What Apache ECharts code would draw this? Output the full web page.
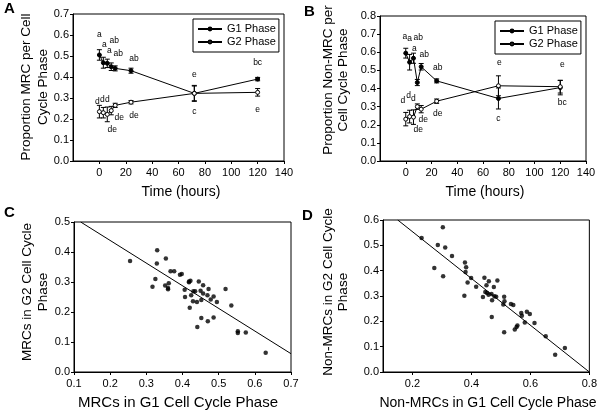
<!DOCTYPE html>
<html>
<head>
<meta charset="utf-8">
<script src="https://cdn.jsdelivr.net/npm/echarts@6/dist/echarts.min.js"></script>
<style>html,body{margin:0;padding:0;background:#fff}#c{width:600px;height:412px}</style>
</head>
<body>
<div id="c"></div>
<script>
// ---------------- DATA ----------------
const timeH = [0, 3, 6, 9, 12, 24, 72, 120];
const xTicksTime = [0, 20, 40, 60, 80, 100, 120, 140];

// Panel A: MRC
const aG1 = [0.505, 0.468, 0.465, 0.449, 0.441, 0.430, 0.322, 0.390];
const aG1Err = [0.025, 0.026, 0.020, 0.018, 0.012, 0.012, 0.038, 0.008];
const aG2 = [0.235, 0.230, 0.222, 0.240, 0.265, 0.280, 0.322, 0.327];
const aG2Err = [0.030, 0.025, 0.035, 0.020, 0.010, 0.008, 0.035, 0.018];
const aG1Letters = ['a', 'a', 'a', 'ab', 'ab', 'ab', 'c', 'bc'];
const aG2Letters = ['d', 'd', 'd', 'de', 'de', 'de', 'e', 'e'];

// Panel B: Non-MRC
const bG1 = [0.595, 0.545, 0.567, 0.433, 0.520, 0.442, 0.345, 0.405];
const bG1Err = [0.027, 0.043, 0.028, 0.017, 0.018, 0.011, 0.058, 0.040];
const bG2 = [0.231, 0.245, 0.242, 0.300, 0.286, 0.330, 0.415, 0.410];
const bG2Err = [0.037, 0.035, 0.040, 0.015, 0.020, 0.012, 0.055, 0.035];
const bG1Letters = ['a', 'a', 'a', 'ab', 'ab', 'ab', 'c', 'bc'];
const bG2Letters = ['d', 'd', 'd', 'de', 'de', 'de', 'e', 'e'];

// Panel C: MRCs G1 (x) vs G2 (y)
const cG1 = [0.255,0.330,0.329,0.325,0.317,0.354,0.352,0.360,0.360,0.362,0.367,0.377,0.393,0.398,0.406,0.407,0.418,0.422,0.418,0.424,0.420,0.430,0.435,0.429,0.440,0.445,0.450,0.452,0.457,0.457,0.441,0.452,0.469,0.472,0.478,0.486,0.486,0.470,0.495,0.519,0.535,0.553,0.553,0.575,0.630];
const cG2 = [0.370,0.406,0.362,0.310,0.284,0.378,0.288,0.280,0.276,0.296,0.336,0.336,0.324,0.327,0.274,0.250,0.302,0.304,0.299,0.256,0.214,0.269,0.269,0.236,0.233,0.302,0.271,0.240,0.289,0.262,0.150,0.180,0.256,0.277,0.242,0.252,0.182,0.169,0.233,0.277,0.222,0.136,0.130,0.132,0.064];
const cFit = [[0.1185, 0.500], [0.700, 0.061]];

// Panel D: Non-MRCs G1 (x) vs G2 (y)
const dG1 = [0.231,0.303,0.286,0.311,0.274,0.304,0.334,0.378,0.382,0.380,0.376,0.387,0.399,0.416,0.444,0.459,0.451,0.476,0.488,0.447,0.453,0.458,0.468,0.439,0.478,0.484,0.470,0.469,0.511,0.512,0.508,0.534,0.542,0.511,0.569,0.571,0.588,0.598,0.581,0.614,0.556,0.553,0.547,0.652,0.684,0.717];
const dG2 = [0.529,0.571,0.501,0.491,0.411,0.378,0.458,0.432,0.413,0.395,0.301,0.353,0.371,0.337,0.372,0.358,0.342,0.336,0.361,0.316,0.312,0.305,0.308,0.296,0.299,0.297,0.283,0.217,0.297,0.279,0.266,0.268,0.264,0.157,0.233,0.222,0.238,0.229,0.195,0.193,0.184,0.178,0.168,0.141,0.068,0.095];
const dFit = [[0.150, 0.600], [0.800, 0.000]];

// ---------------- LAYOUT / STYLE ----------------
const FONT = 'Liberation Sans, Arial, sans-serif';
// pixel offsets of the significance letters relative to their points
const aG1Off = [[0,-20],[1,-18],[2,-13],[3,-26],[3,-15],[3,-12],[0,18],[0,-16]];
const aG2Off = [[-2,-10],[-1,-13],[0,-15],[1,19],[4,12],[3,13],[0,-19],[0,17]];
const bG1Off = [[-1,-17],[0,-24],[1,-10],[1,-45],[3,-12],[1,-13],[0,20],[2,15]];
const bG2Off = [[-3,-18],[-1,-21],[0,-18],[1,23],[2,10],[1,12],[1,-23],[2,-22]];

const pairs = (xs, ys) => xs.map((x, i) => [x, ys[i]]);

function axisBase() {
  return {
    axisLine: {show: true, onZero: false, lineStyle: {color: '#000', width: 1}},
    axisTick: {show: true, inside: false, length: 3, lineStyle: {color: '#000'}},
    axisLabel: {color: '#000', fontSize: 11, fontFamily: FONT, margin: 4},
    splitLine: {show: false}
  };
}
function xAxis(gi, min, max, interval, fmt, custom) {
  const a = Object.assign(axisBase(), {type: 'value', gridIndex: gi, min, max, interval});
  a.axisLabel = Object.assign({}, a.axisLabel, {margin: 6, formatter: fmt});
  if (custom) {
    a.axisLabel.customValues = custom;
    a.axisTick = Object.assign({}, a.axisTick, {customValues: custom});
  }
  return a;
}
function yAxis(gi, min, max, interval) {
  const a = Object.assign(axisBase(), {type: 'value', gridIndex: gi, min, max, interval});
  a.axisLabel = Object.assign({}, a.axisLabel, {formatter: v => v.toFixed(1)});
  return a;
}

function errSeries(gi, vals, errs) {
  return {
    type: 'custom', xAxisIndex: gi, yAxisIndex: gi, z: 1, silent: true,
    data: timeH.map((t, i) => [t, vals[i], errs[i]]),
    encode: {x: 0, y: 1},
    renderItem: function (params, api) {
      const x = api.value(0), y = api.value(1), e = api.value(2);
      const top = api.coord([x, y + e]);
      const bot = api.coord([x, y - e]);
      const w = 2.5, st = {stroke: '#000', lineWidth: 1};
      return {type: 'group', children: [
        {type: 'line', shape: {x1: top[0], y1: top[1], x2: bot[0], y2: bot[1]}, style: st},
        {type: 'line', shape: {x1: top[0] - w, y1: top[1], x2: top[0] + w, y2: top[1]}, style: st},
        {type: 'line', shape: {x1: bot[0] - w, y1: bot[1], x2: bot[0] + w, y2: bot[1]}, style: st}
      ]};
    }
  };
}
function letterSeries(gi, vals, letters, offs) {
  return {
    type: 'custom', xAxisIndex: gi, yAxisIndex: gi, z: 5, silent: true,
    data: timeH.map((t, i) => [t, vals[i]]),
    encode: {x: 0, y: 1},
    renderItem: function (params, api) {
      const p = api.coord([api.value(0), api.value(1)]);
      const o = offs[params.dataIndex];
      return {type: 'text', x: p[0] + o[0], y: p[1] + o[1], style: {
        text: letters[params.dataIndex], fill: '#000', font: '8.5px ' + FONT,
        textAlign: 'center', textVerticalAlign: 'middle'}};
    }
  };
}
function lineSeries(gi, name, vals, filled) {
  return {
    type: 'line', name, xAxisIndex: gi, yAxisIndex: gi, z: 3,
    data: pairs(timeH, vals),
    symbol: 'circle', symbolSize: 4, showSymbol: true,
    lineStyle: {color: '#000', width: 1},
    itemStyle: filled ? {color: '#000', borderColor: '#000', borderWidth: 1}
                      : {color: '#fff', borderColor: '#000', borderWidth: 1}
  };
}
function scatterSeries(gi, xs, ys) {
  return {type: 'scatter', xAxisIndex: gi, yAxisIndex: gi, symbol: 'circle', symbolSize: 4.5,
    itemStyle: {color: '#000'}, data: pairs(xs, ys)};
}
function fitSeries(gi, pts) {
  return {type: 'line', xAxisIndex: gi, yAxisIndex: gi, data: pts, symbol: 'none',
    lineStyle: {color: '#000', width: 1}, silent: true};
}
function legend(left, top) {
  return {
    left, top, orient: 'vertical', data: ['G1 Phase', 'G2 Phase'],
    borderColor: '#000', borderWidth: 1, backgroundColor: '#fff',
    padding: [4, 3, 4, 4], itemGap: 1, itemWidth: 24, itemHeight: 3.5,
    textStyle: {fontSize: 11, color: '#000', fontFamily: FONT, lineHeight: 12},
    selectedMode: false
  };
}
function txt(text, x, y, size) {
  return {type: 'text', x, y, style: {
    text, fill: '#000', font: size + 'px ' + FONT, textAlign: 'center', textVerticalAlign: 'middle'}};
}
function ytitle(text, x, y, size, lh) {
  return {type: 'text', x, y, rotation: Math.PI / 2, style: {
    text, fill: '#000', font: size + 'px ' + FONT, textAlign: 'center', textVerticalAlign: 'middle', lineHeight: lh}};
}
function panelLetter(text, x, y) {
  return {type: 'text', x, y, style: {text, fill: '#000', font: 'bold 15px ' + FONT, textAlign: 'left', textVerticalAlign: 'top'}};
}

const timeFmt = v => (v < 0 ? '' : String(v));

const option = {
  animation: false,
  backgroundColor: '#fff',
  grid: [
    {left: 73, top: 14, width: 211, height: 147, show: true, borderColor: '#000', borderWidth: 1},
    {left: 380, top: 16, width: 206, height: 145, show: true, borderColor: '#000', borderWidth: 1},
    {left: 74, top: 222, width: 217, height: 150, show: true, borderColor: '#000', borderWidth: 1},
    {left: 383, top: 220, width: 210, height: 152, show: true, borderColor: '#000', borderWidth: 1}
  ],
  xAxis: [
    xAxis(0, -20, 140, 20, timeFmt, xTicksTime),
    xAxis(1, -20, 140, 20, timeFmt, xTicksTime),
    xAxis(2, 0.1, 0.7, 0.1, v => v.toFixed(1)),
    xAxis(3, 0.1, 0.8, 0.1, v => v.toFixed(1), [0.2, 0.4, 0.6, 0.8])
  ],
  yAxis: [
    yAxis(0, 0, 0.7, 0.1),
    yAxis(1, 0, 0.8, 0.1),
    yAxis(2, 0, 0.5, 0.1),
    yAxis(3, 0, 0.6, 0.1)
  ],
  legend: [legend(193, 19), legend(495, 21)],
  series: [
    errSeries(0, aG1, aG1Err), errSeries(0, aG2, aG2Err),
    lineSeries(0, 'G1 Phase', aG1, true), lineSeries(0, 'G2 Phase', aG2, false),
    letterSeries(0, aG1, aG1Letters, aG1Off), letterSeries(0, aG2, aG2Letters, aG2Off),
    errSeries(1, bG1, bG1Err), errSeries(1, bG2, bG2Err),
    lineSeries(1, 'G1 Phase', bG1, true), lineSeries(1, 'G2 Phase', bG2, false),
    letterSeries(1, bG1, bG1Letters, bG1Off), letterSeries(1, bG2, bG2Letters, bG2Off),
    fitSeries(2, cFit), scatterSeries(2, cG1, cG2),
    fitSeries(3, dFit), scatterSeries(3, dG1, dG2)
  ],
  graphic: [
    panelLetter('A', 4, 1), panelLetter('B', 304, 4), panelLetter('C', 4, 205), panelLetter('D', 302, 208),
    ytitle('Proportion MRC per Cell\nCycle Phase', 35, 87, 13.5, 16.6),
    ytitle('Proportion Non-MRC per\nCell Cycle Phase', 336, 80, 13.5, 15),
    ytitle('MRCs in G2 Cell Cycle\nPhase', 35, 292, 13.5, 16),
    ytitle('Non-MRCs in G2 Cell Cycle\nPhase', 336, 292, 13.5, 15),
    txt('Time (hours)', 181, 192, 14),
    txt('Time (hours)', 485, 192, 14),
    txt('MRCs in G1 Cell Cycle Phase', 178, 403, 15),
    txt('Non-MRCs in G1 Cell Cycle Phase', 488, 403, 14)
  ]
};

const chart = echarts.init(document.getElementById('c'), null, {renderer: 'canvas'});
chart.setOption(option);
</script>
</body>
</html>
